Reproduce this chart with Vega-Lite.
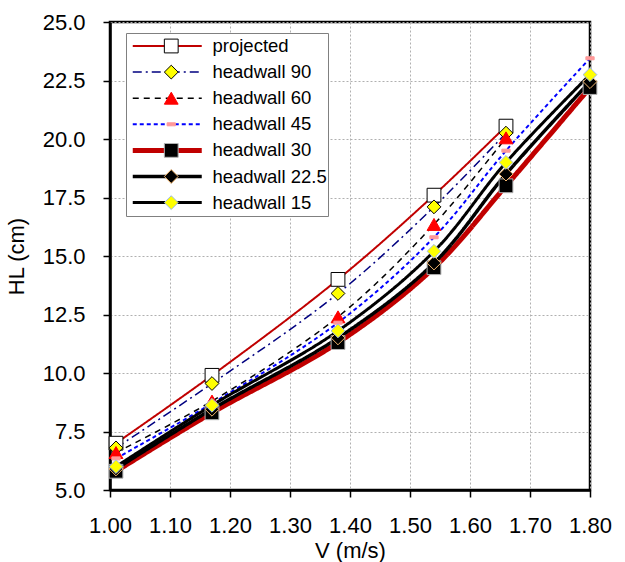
{
  "$schema": "https://vega.github.io/schema/vega-lite/v6.json",
  "width": 480,
  "height": 468,
  "autosize": {"type": "none"},
  "padding": {"left": 110, "top": 22, "right": 35, "bottom": 72},
  "background": "white",
  "config": {
    "font": "Liberation Sans",
    "view": {"stroke": "black", "strokeWidth": 2.5},
    "axis": {
      "domainColor": "black", "domainWidth": 2.5,
      "tickColor": "black", "tickWidth": 1.5, "tickSize": 7,
      "labelFont": "Liberation Sans", "labelFontSize": 22, "labelColor": "black",
      "labelOverlap": false, "labelFlush": false, "labelBound": false,
      "titleFont": "Liberation Sans", "titleFontSize": 22, "titleFontWeight": "normal", "titleColor": "black",
      "gridColor": "#b0b0b0", "gridDash": [2, 2], "gridWidth": 1
    }
  },
  "data": {
    "values": [
      {"series": "projected", "V": 1.01, "HL": 7.0},
      {"series": "projected", "V": 1.17, "HL": 9.9},
      {"series": "projected", "V": 1.38, "HL": 14.0},
      {"series": "projected", "V": 1.54, "HL": 17.6},
      {"series": "projected", "V": 1.66, "HL": 20.55},
      {"series": "headwall 90", "V": 1.01, "HL": 6.8},
      {"series": "headwall 90", "V": 1.17, "HL": 9.55},
      {"series": "headwall 90", "V": 1.38, "HL": 13.4},
      {"series": "headwall 90", "V": 1.54, "HL": 17.1},
      {"series": "headwall 90", "V": 1.66, "HL": 20.25},
      {"series": "headwall 60", "V": 1.01, "HL": 6.6},
      {"series": "headwall 60", "V": 1.17, "HL": 8.8},
      {"series": "headwall 60", "V": 1.38, "HL": 12.4},
      {"series": "headwall 60", "V": 1.54, "HL": 16.35},
      {"series": "headwall 60", "V": 1.66, "HL": 20.05},
      {"series": "headwall 45", "V": 1.01, "HL": 6.35},
      {"series": "headwall 45", "V": 1.17, "HL": 8.7},
      {"series": "headwall 45", "V": 1.38, "HL": 12.15},
      {"series": "headwall 45", "V": 1.54, "HL": 15.8},
      {"series": "headwall 45", "V": 1.66, "HL": 19.5},
      {"series": "headwall 45", "V": 1.8, "HL": 23.45},
      {"series": "headwall 30", "V": 1.01, "HL": 5.8},
      {"series": "headwall 30", "V": 1.17, "HL": 8.3},
      {"series": "headwall 30", "V": 1.38, "HL": 11.3},
      {"series": "headwall 30", "V": 1.54, "HL": 14.5},
      {"series": "headwall 30", "V": 1.66, "HL": 18.0},
      {"series": "headwall 30", "V": 1.8, "HL": 22.2},
      {"series": "headwall 22.5", "V": 1.01, "HL": 5.9},
      {"series": "headwall 22.5", "V": 1.17, "HL": 8.45},
      {"series": "headwall 22.5", "V": 1.38, "HL": 11.5},
      {"series": "headwall 22.5", "V": 1.54, "HL": 14.7},
      {"series": "headwall 22.5", "V": 1.66, "HL": 18.5},
      {"series": "headwall 22.5", "V": 1.8, "HL": 22.45},
      {"series": "headwall 15", "V": 1.01, "HL": 6.0},
      {"series": "headwall 15", "V": 1.17, "HL": 8.62},
      {"series": "headwall 15", "V": 1.38, "HL": 11.8},
      {"series": "headwall 15", "V": 1.54, "HL": 15.2},
      {"series": "headwall 15", "V": 1.66, "HL": 19.0},
      {"series": "headwall 15", "V": 1.8, "HL": 22.75}
    ]
  },
  "layer": [
    {
      "mark": {"type": "line", "interpolate": "catmull-rom", "clip": true},
      "encoding": {
        "x": {
          "field": "V", "type": "quantitative",
          "scale": {"domain": [1.0, 1.8], "nice": false, "zero": false},
          "axis": {
            "values": [1.0, 1.1, 1.2, 1.3, 1.4, 1.5, 1.6, 1.7, 1.8],
            "format": ".2f", "title": "V (m/s)", "labelPadding": 18, "titlePadding": 4,
            "grid": true
          }
        },
        "y": {
          "field": "HL", "type": "quantitative",
          "scale": {"domain": [5, 25], "nice": false, "zero": false},
          "axis": {
            "values": [5, 7.5, 10, 12.5, 15, 17.5, 20, 22.5, 25],
            "format": ".1f", "title": "HL (cm)", "labelPadding": 18, "titlePadding": 14,
            "grid": true
          }
        },
        "color": {
          "field": "series", "type": "nominal", "sort": "descending",
          "scale": {"range": ["#C00000", "#000080", "#000000", "#0000FF", "#C00000", "#000000", "#000000"]},
          "legend": {
            "title": null, "orient": "none", "legendX": 16, "legendY": 11,
            "symbolType": "stroke", "symbolSize": 4761,
            "symbolStrokeWidth": {"expr": "datum.value === 'headwall 30' ? 5 : datum.value === 'headwall 22.5' ? 3.5 : datum.value === 'headwall 15' ? 3 : (datum.value === 'projected' || datum.value === 'headwall 45') ? 2 : 1.5"},
            "clipHeight": 24, "rowPadding": 2.1, "padding": 1,
            "fillColor": "white", "strokeColor": "#808080",
            "labelFont": "Liberation Sans", "labelFontSize": 18.5, "labelColor": "black",
            "labelOffset": 36, "symbolOffset": 31
          }
        },
        "strokeDash": {
          "field": "series", "type": "nominal", "sort": "descending",
          "scale": {"range": [[1, 0], [9, 4, 2, 4], [6, 5], [4, 3], [1, 0], [1, 0], [1, 0]]}
        },
        "strokeWidth": {
          "condition": [
            {"test": "datum.series === 'headwall 30'", "value": 5},
            {"test": "datum.series === 'headwall 22.5'", "value": 3.5},
            {"test": "datum.series === 'headwall 15'", "value": 3},
            {"test": "datum.series === 'projected' || datum.series === 'headwall 45'", "value": 2}
          ],
          "value": 1.5
        }
      }
    },
    {
      "mark": {"type": "point", "filled": true, "size": 190, "strokeWidth": 1, "opacity": 1},
      "encoding": {
        "x": {"field": "V", "type": "quantitative"},
        "y": {"field": "HL", "type": "quantitative"},
        "shape": {
          "field": "series", "type": "nominal",
          "scale": {
            "domain": ["projected", "headwall 90", "headwall 60", "headwall 45", "headwall 30", "headwall 22.5", "headwall 15"],
            "range": ["square", "diamond", "triangle-up", "M-0.6,-0.22H0.6V0.22H-0.6Z", "square", "diamond", "diamond"]
          },
          "legend": {
            "title": null, "orient": "none", "legendX": 16, "legendY": 11,
            "symbolSize": 190, "symbolStrokeWidth": 1,
            "clipHeight": 24, "rowPadding": 2.1, "padding": 1,
            "labelExpr": "''", "labelFontSize": 18.5, "symbolOffset": 35
          }
        },
        "fill": {
          "field": "series", "type": "nominal",
          "scale": {
            "domain": ["projected", "headwall 90", "headwall 60", "headwall 45", "headwall 30", "headwall 22.5", "headwall 15"],
            "range": ["#FFFFFF", "#FFFF00", "#FF0000", "#FF9999", "#000000", "#000000", "#FFFF00"]
          }
        },
        "stroke": {
          "field": "series", "type": "nominal",
          "scale": {
            "domain": ["projected", "headwall 90", "headwall 60", "headwall 45", "headwall 30", "headwall 22.5", "headwall 15"],
            "range": ["#000000", "#000000", "#FF0000", "#FF9999", "#B0B0B0", "#F5B870", "#9DB9E8"]
          }
        }
      }
    }
  ]
}
